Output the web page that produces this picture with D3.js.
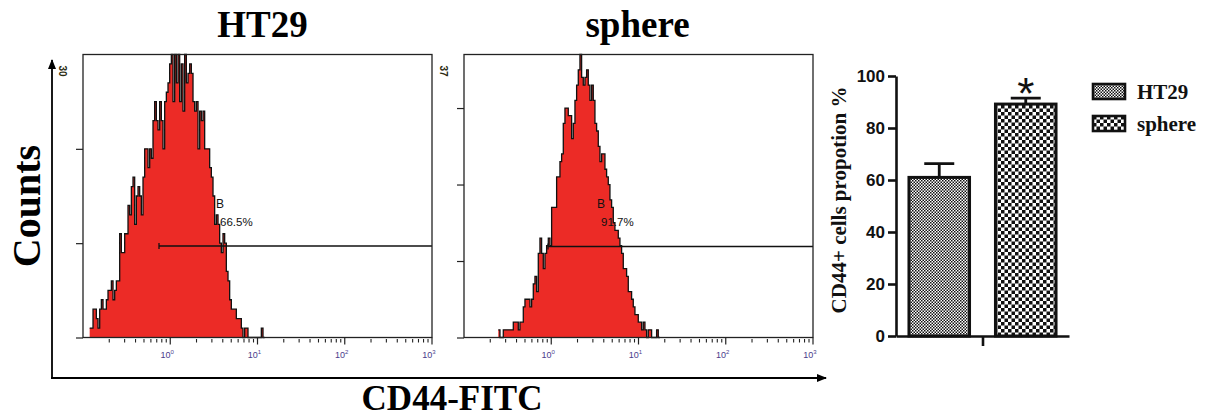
<!DOCTYPE html>
<html>
<head>
<meta charset="utf-8">
<script src="https://cdn.jsdelivr.net/npm/d3@7"></script>
<style>
body { margin: 0; background: #fff; }
</style>
</head>
<body>
<div id="chart"></div>
<script>
// histogram channels: counts per channel, channels are binLog decades wide
let panelNames = ["HT29", "sphere"];
let ht29Start = 0.1193;
let ht29Counts = [
  1, 1, 3, 3, 2, 1, 3, 4, 3, 3,
  4, 5, 5, 6, 4, 5, 6, 6, 11, 9,
  9, 11, 11, 14, 13, 16, 17, 12, 15, 16,
  15, 13, 17, 20, 20, 18, 20, 19, 23, 25,
  23, 22, 25, 23, 20, 25, 26, 27, 29, 30,
  25, 32, 27, 31, 25, 29, 24, 33, 27, 28,
  29, 28, 25, 24, 25, 20, 24, 23, 24, 20,
  20, 20, 18, 17, 15, 12, 13, 12, 10, 9,
  11, 10, 7, 6, 4, 3, 3, 3, 2, 2,
  2, 1, 0, 1, 1, 0, 0, 0, 0, 0,
  0, 0, 0, 1, 0
];
let sphereStart = 0.2472;
let sphereCounts = [
  1, 0, 0, 1, 1, 1, 1, 1, 1, 2,
  2, 2, 1, 2, 2, 4, 5, 5, 5, 4,
  5, 7, 8, 6, 11, 13, 11, 9, 11, 12,
  13, 12, 17, 17, 17, 21, 21, 23, 24, 28,
  30, 30, 29, 29, 26, 28, 31, 33, 35, 37,
  34, 33, 34, 35, 33, 31, 33, 31, 28, 27,
  25, 23, 24, 24, 22, 21, 20, 18, 17, 15,
  14, 14, 13, 12, 11, 9, 9, 8, 6, 6,
  5, 4, 3, 3, 2, 2, 1, 2, 1, 0,
  1, 1, 0, 0, 0, 1, 0
];
let binLog = 0.0191;
let countMax = [30, 37];
let gateFrom = [0.743, 0.918];
let gateLevel = [9.7, 11.9];
let gateName = ["B", "B"];
let gatePct = ["66.5%", "91.7%"];
let decades = [1, 10, 100, 1000];
let decadeLabels = ["0", "1", "2", "3"];

// bar chart
let groups = ["HT29", "sphere"];
let means = [61, 89.2];
let errs = [5.3, 2.3];
let barTicks = [0, 20, 40, 60, 80, 100];

let svgW = 1209;
let svgH = 419;

let svg = d3.select("#chart")
  .append("svg")
  .attr("width", svgW)
  .attr("height", svgH)
  .style("background", "#fff");

let defs = svg.append("defs");

let fine = defs.append("pattern")
  .attr("id", "fine")
  .attr("patternUnits", "userSpaceOnUse")
  .attr("width", 3).attr("height", 3);
fine.append("rect").attr("width", 3).attr("height", 3).attr("fill", "#fff");
fine.append("rect").attr("width", 1.5).attr("height", 1.5).attr("fill", "#111");
fine.append("rect").attr("x", 1.5).attr("y", 1.5).attr("width", 1.5).attr("height", 1.5).attr("fill", "#111");

let coarse = defs.append("pattern")
  .attr("id", "coarse")
  .attr("patternUnits", "userSpaceOnUse")
  .attr("width", 7).attr("height", 7);
coarse.append("rect").attr("width", 7).attr("height", 7).attr("fill", "#fff");
coarse.append("rect").attr("width", 3.5).attr("height", 3.5).attr("fill", "#111");
coarse.append("rect").attr("x", 3.5).attr("y", 3.5).attr("width", 3.5).attr("height", 3.5).attr("fill", "#111");

let fills = ["url(#fine)", "url(#coarse)"];

defs.append("marker")
  .attr("id", "arrow")
  .attr("viewBox", "0 0 10 10")
  .attr("refX", 9).attr("refY", 5)
  .attr("markerWidth", 10).attr("markerHeight", 10)
  .attr("markerUnits", "userSpaceOnUse")
  .attr("orient", "auto")
  .append("path")
  .attr("d", "M0,1 L10,5 L0,9 Z")
  .attr("fill", "#000");

// ---- flow histograms ----
let panels = [
  { left: 83, start: ht29Start, counts: ht29Counts, titleShift: 5 },
  { left: 464, start: sphereStart, counts: sphereCounts, titleShift: -1 }
];
let panelW = 349;
let plotTop = 54.5;
let plotBottom = 337.5;
let serif = "'Liberation Serif', 'Times New Roman', serif";
let sans = "'Liberation Sans', Arial, sans-serif";

panels.forEach((p, k) => {
  let x = d3.scaleLog()
    .domain([0.1, 1000])
    .range([p.left, p.left + panelW]);

  let y = d3.scaleLinear()
    .domain([0, countMax[k]])
    .range([plotBottom, plotTop])
    .clamp(true);

  let bins = p.counts.map((c, i) => ({ x0: p.start * Math.pow(10, i * binLog), c: c }));
  bins.push({ x0: p.start * Math.pow(10, p.counts.length * binLog), c: 0 });

  let g = svg.append("g");

  let area = d3.area()
    .curve(d3.curveStepAfter)
    .x(d => x(d.x0))
    .y0(y(0))
    .y1(d => y(d.c));

  let line = d3.line()
    .curve(d3.curveStepAfter)
    .x(d => x(d.x0))
    .y(d => y(d.c));

  g.append("path")
    .datum(bins)
    .attr("d", area)
    .attr("fill", "#ec2b26");

  // gate marker + labels
  let gy = y(gateLevel[k]);
  let gx = x(gateFrom[k]);
  g.append("line")
    .attr("x1", gx).attr("x2", p.left + panelW)
    .attr("y1", gy).attr("y2", gy)
    .attr("stroke", "#111").attr("stroke-width", 1.3);
  g.append("line")
    .attr("x1", gx).attr("x2", gx)
    .attr("y1", gy - 3).attr("y2", gy + 3)
    .attr("stroke", "#111").attr("stroke-width", 1.3);

  g.append("text")
    .attr("x", x(3.35))
    .attr("y", gy - 38)
    .attr("font-family", sans)
    .attr("font-size", 12)
    .attr("fill", "#111")
    .text(gateName[k]);
  g.append("text")
    .attr("x", x(3.35) + 4)
    .attr("y", gy - 20)
    .attr("font-family", sans)
    .attr("font-size", 11.5)
    .attr("fill", "#111")
    .text(gatePct[k]);

  g.append("path")
    .datum(bins)
    .attr("d", line)
    .attr("fill", "none")
    .attr("stroke", "#111")
    .attr("stroke-width", 1.3);

  g.append("rect")
    .attr("x", p.left).attr("y", plotTop)
    .attr("width", panelW).attr("height", plotBottom - plotTop)
    .attr("fill", "none")
    .attr("stroke", "#222")
    .attr("stroke-width", 1.3);

  // y ticks
  let yAxis = d3.axisLeft(y)
    .tickValues(d3.range(0, countMax[k], 10))
    .tickSize(7)
    .tickFormat("");
  g.append("g")
    .attr("transform", `translate(${p.left},0)`)
    .call(yAxis)
    .call(a => a.select(".domain").remove())
    .selectAll("line").attr("stroke", "#222").attr("stroke-width", 1.2);

  g.append("text")
    .attr("transform", `translate(${p.left - 24},${plotTop + 11}) rotate(90)`)
    .attr("font-family", sans)
    .attr("font-weight", "bold")
    .attr("font-size", 10)
    .attr("fill", "#2a2a10")
    .text(countMax[k]);

  // log x ticks
  let minors = [];
  [0.1, 1, 10, 100].forEach(d => {
    for (let m = 2; m <= 9; m++) minors.push(d * m);
  });
  g.selectAll(".minor")
    .data(minors)
    .enter()
    .append("line")
    .attr("x1", d => x(d)).attr("x2", d => x(d))
    .attr("y1", plotBottom + 1.5).attr("y2", plotBottom + 5)
    .attr("stroke", "#222").attr("stroke-width", 1.1);
  g.selectAll(".major")
    .data(decades)
    .enter()
    .append("line")
    .attr("x1", d => x(d)).attr("x2", d => x(d))
    .attr("y1", plotBottom).attr("y2", plotBottom + 7)
    .attr("stroke", "#222").attr("stroke-width", 1.2);

  let lab = g.selectAll(".dlab")
    .data(decades)
    .enter()
    .append("text")
    .attr("x", d => x(d) - 3)
    .attr("y", plotBottom + 20)
    .attr("text-anchor", "middle")
    .attr("font-family", sans)
    .attr("font-size", 9)
    .attr("fill", "#4a3c8c");
  lab.append("tspan").text("10");
  lab.append("tspan")
    .attr("dy", -4)
    .attr("font-size", 6)
    .text((d, i) => decadeLabels[i]);

  svg.append("text")
    .attr("x", p.left + panelW / 2 + p.titleShift)
    .attr("y", 37)
    .attr("text-anchor", "middle")
    .attr("font-family", serif)
    .attr("font-weight", "bold")
    .attr("font-size", 37)
    .attr("fill", "#000")
    .text(panelNames[k]);
});

// big axis arrows
svg.append("line")
  .attr("x1", 52).attr("y1", 378)
  .attr("x2", 52).attr("y2", 60)
  .attr("stroke", "#000").attr("stroke-width", 1.8)
  .attr("marker-end", "url(#arrow)");
svg.append("line")
  .attr("x1", 51).attr("y1", 378)
  .attr("x2", 826).attr("y2", 378)
  .attr("stroke", "#000").attr("stroke-width", 1.8)
  .attr("marker-end", "url(#arrow)");

svg.append("text")
  .attr("transform", "translate(40,206) rotate(-90)")
  .attr("text-anchor", "middle")
  .attr("font-family", serif)
  .attr("font-weight", "bold")
  .attr("font-size", 40)
  .text("Counts");

svg.append("text")
  .attr("x", 452)
  .attr("y", 410)
  .attr("text-anchor", "middle")
  .attr("font-family", serif)
  .attr("font-weight", "bold")
  .attr("font-size", 35)
  .text("CD44-FITC");

// ---- bar chart ----
let bx = d3.scaleBand()
  .domain(groups)
  .range([896, 1069])
  .paddingInner(0.3)
  .paddingOuter(0.15);

let by = d3.scaleLinear()
  .domain([0, 100])
  .range([336, 76]);

let bar = svg.append("g");

bar.selectAll(".bar")
  .data(groups)
  .enter()
  .append("rect")
  .attr("x", d => bx(d))
  .attr("y", (d, i) => by(means[i]))
  .attr("width", bx.bandwidth())
  .attr("height", (d, i) => by(0) - by(means[i]))
  .attr("fill", (d, i) => fills[i])
  .attr("stroke", "#111")
  .attr("stroke-width", 3);

bar.selectAll(".err")
  .data(groups)
  .enter()
  .append("path")
  .attr("d", (d, i) => {
    let cx = bx(d) + bx.bandwidth() / 2;
    let y0 = by(means[i]);
    let y1 = by(means[i] + errs[i]);
    return `M${cx},${y0}V${y1}M${cx - 15},${y1}H${cx + 15}`;
  })
  .attr("fill", "none")
  .attr("stroke", "#111")
  .attr("stroke-width", 2.8);

bar.append("text")
  .attr("x", bx("sphere") + bx.bandwidth() / 2)
  .attr("y", by(means[1] + errs[1]) + 11)
  .attr("text-anchor", "middle")
  .attr("font-family", sans)
  .attr("font-size", 44)
  .attr("fill", "#111")
  .text("*");

bar.append("g")
  .attr("transform", "translate(896,0)")
  .call(d3.axisLeft(by).tickValues(barTicks).tickSize(8).tickPadding(3).tickSizeOuter(0))
  .call(a => a.selectAll("path, line").attr("stroke", "#111").attr("stroke-width", 2.6))
  .call(a => a.selectAll("text")
    .attr("font-family", sans)
    .attr("font-weight", "bold")
    .attr("font-size", 17)
    .attr("fill", "#111"));

let bxAxis = d3.scalePoint().domain(["all"]).range([896, 1069]).padding(0.5);
bar.append("g")
  .attr("transform", "translate(0,336)")
  .call(d3.axisBottom(bxAxis).tickSize(10).tickFormat("").tickSizeOuter(0))
  .call(a => a.selectAll("path, line").attr("stroke", "#111").attr("stroke-width", 2.6));

bar.append("text")
  .attr("transform", "translate(846,200) rotate(-90)")
  .attr("text-anchor", "middle")
  .attr("font-family", serif)
  .attr("font-weight", "bold")
  .attr("font-size", 21)
  .attr("fill", "#111")
  .text("CD44+ cells propotion %");

let legend = bar.selectAll(".leg")
  .data(groups)
  .enter()
  .append("g")
  .attr("transform", (d, i) => `translate(1093,${84 + i * 32})`);
legend.append("rect")
  .attr("width", 32).attr("height", 15)
  .attr("fill", (d, i) => fills[i])
  .attr("stroke", "#111").attr("stroke-width", 2.6);
legend.append("text")
  .attr("x", 44)
  .attr("y", 15)
  .attr("font-family", serif)
  .attr("font-weight", "bold")
  .attr("font-size", 21)
  .attr("fill", "#111")
  .text(d => d);
</script>
</body>
</html>
